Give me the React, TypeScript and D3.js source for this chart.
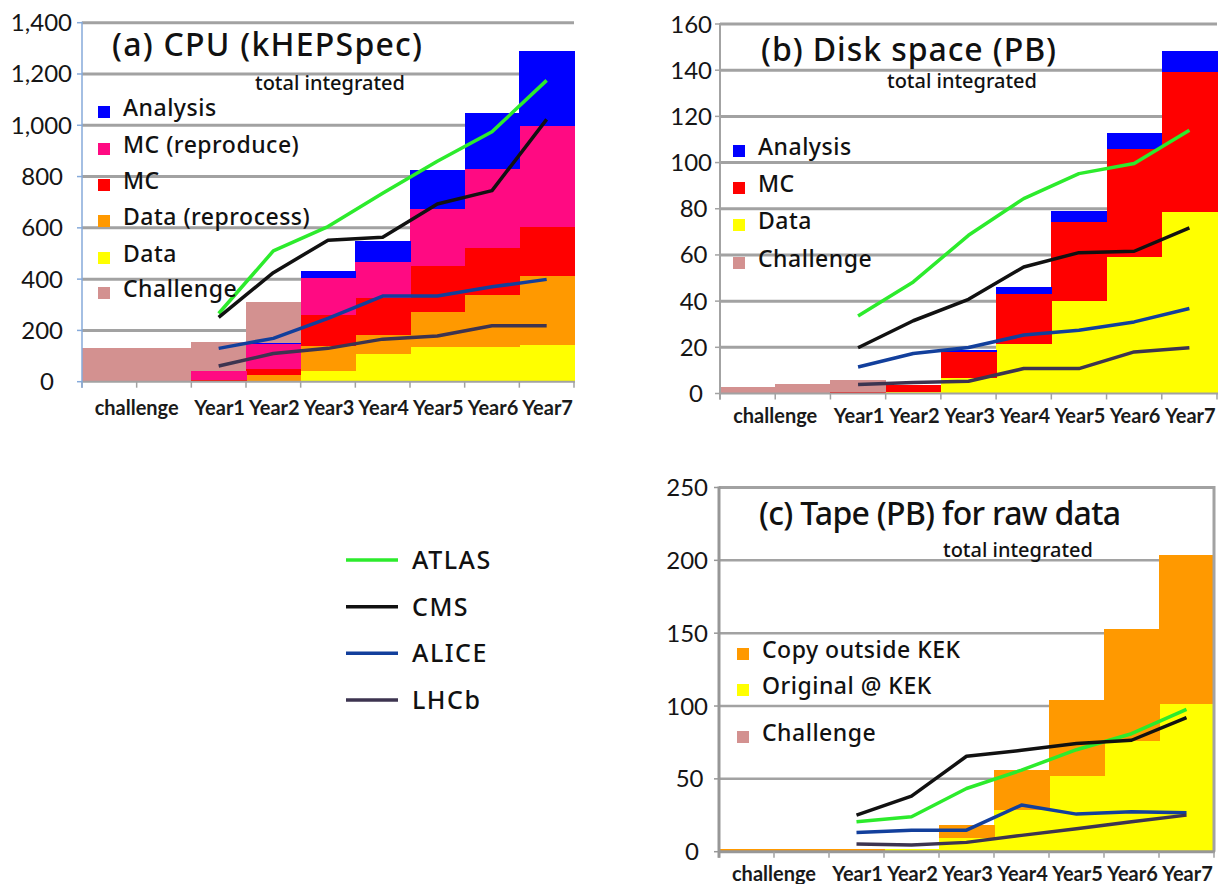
import React, { useEffect, useRef } from "react";
import * as d3 from "d3";

const W = 1232;
const H = 884;

// 9 slots on each x axis: two "challenge" slots, then the seven years
const slotIds = ["c1", "c2", "Year1", "Year2", "Year3", "Year4", "Year5", "Year6", "Year7"];
const yearLabels = ["Year1", "Year2", "Year3", "Year4", "Year5", "Year6", "Year7"];
const challengeLabel = "challenge";

const experiments = ["ATLAS", "CMS", "ALICE", "LHCb"];
const expColors = ["#2CEB2C", "#111111", "#123F9C", "#3D3450"];

// (a) CPU (kHEPSpec) - stacked pieces per slot
const cpuChallenge = [130, 130, 156, 312, 0, 0, 0, 0, 0];
const cpuData = [0, 0, 0, 0, 43, 108, 134, 136, 143];
const cpuDataReprocess = [0, 0, 3, 25, 97, 74, 136, 202, 269];
const cpuMC = [0, 0, 5, 25, 122, 146, 182, 185, 190];
const cpuMCReproduce = [0, 0, 34, 98, 142, 137, 221, 305, 395];
const cpuAnalysis = [0, 0, 0, 4, 26, 83, 152, 218, 293];
const cpuAtlas = [266, 510, 605, 735, 860, 975, 1175];
const cpuCms = [251, 425, 552, 563, 693, 745, 1023];
const cpuAlice = [130, 169, 247, 334, 334, 370, 399];
const cpuLhcb = [61, 110, 130, 166, 178, 218, 218];

// (b) Disk space (PB)
const diskChallenge = [2.9, 4, 5.8, 0, 0, 0, 0, 0, 0];
const diskData = [0, 0, 0, 0.5, 6.8, 21.6, 40, 58.9, 78.4];
const diskMC = [0, 0, 0.7, 3.1, 11.2, 21.4, 34.3, 46.9, 60.8];
const diskAnalysis = [0, 0, 0, 0, 0.8, 2.9, 4.7, 7, 9];
const diskAtlas = [33.6, 48.3, 68.5, 84.4, 95.2, 99.6, 114];
const diskCms = [19.8, 31.5, 40.8, 54.8, 61, 61.6, 71.7];
const diskAlice = [11.5, 17.3, 19.9, 25.3, 27.4, 31, 36.8];
const diskLhcb = [3.9, 4.8, 5.3, 10.8, 10.8, 18, 19.8];

// (c) Tape (PB) for raw data
const tapeChallenge = [0, 0, 0, 0, 0, 0, 0, 0, 0];
const tapeOriginal = [0, 0, 0, 1.8, 9.1, 28.5, 52, 76, 101.6];
const tapeCopy = [1.8, 1.8, 1.8, 0, 9.2, 27.9, 52.3, 77, 102.1];
const tapeAtlas = [20.5, 24, 43.4, 56, 70, 81, 97.7];
const tapeCms = [25.1, 38.1, 65.5, 69.6, 74.2, 76.5, 92];
const tapeAlice = [13.2, 14.8, 14.8, 32, 25.8, 27.4, 26.7];
const tapeLhcb = [5.3, 4.6, 6.4, 11.2, 15.8, 20.5, 25.1];

const C = {
  analysis: "#0000FF",
  mcRepro: "#FF0A82",
  mc: "#FF0000",
  dataRepro: "#FF9900",
  data: "#FFFF00",
  challenge: "#D39190",
};

const comic = "'Noto Sans', sans-serif";

interface Layer { name: string; color: string; values: number[] }

interface PanelCfg {
  x0: number; x1: number; yBase: number; yTop: number; yMax: number; step: number;
  challenge: number[];
  stack: Layer[];
  lines: number[][];
  legend: { name: string; color: string }[];
  legendX: number; legendTops: number[];
  title: string; titleX: number; titleY: number; titleLen: number;
  subX: number; subY: number;
  axisColor: string; axisWidth: number; gridWidth: number; border: boolean;
  labelGap: number; xLabelY: number;
}

const panels: PanelCfg[] = [
  {
    x0: 82, x1: 574, yBase: 381.7, yTop: 22.7, yMax: 1400, step: 200,
    challenge: cpuChallenge,
    stack: [
      { name: "Data", color: C.data, values: cpuData },
      { name: "Data (reprocess)", color: C.dataRepro, values: cpuDataReprocess },
      { name: "MC", color: C.mc, values: cpuMC },
      { name: "MC (reproduce)", color: C.mcRepro, values: cpuMCReproduce },
      { name: "Analysis", color: C.analysis, values: cpuAnalysis },
    ],
    lines: [cpuAtlas, cpuCms, cpuAlice, cpuLhcb],
    legend: [
      { name: "Analysis", color: C.analysis },
      { name: "MC (reproduce)", color: C.mcRepro },
      { name: "MC", color: C.mc },
      { name: "Data (reprocess)", color: C.dataRepro },
      { name: "Data", color: C.data },
      { name: "Challenge", color: C.challenge },
    ],
    legendX: 98, legendTops: [106, 143, 179, 215, 252, 287],
    title: "(a)  CPU (kHEPSpec)", titleX: 112, titleY: 56, titleLen: 310,
    subX: 255, subY: 90,
    axisColor: "#86AADA", axisWidth: 1.5, gridWidth: 3, border: false,
    labelGap: 10, xLabelY: 415,
  },
  {
    x0: 720, x1: 1217, yBase: 393.5, yTop: 24, yMax: 160, step: 20,
    challenge: diskChallenge,
    stack: [
      { name: "Data", color: C.data, values: diskData },
      { name: "MC", color: C.mc, values: diskMC },
      { name: "Analysis", color: C.analysis, values: diskAnalysis },
    ],
    lines: [diskAtlas, diskCms, diskAlice, diskLhcb],
    legend: [
      { name: "Analysis", color: C.analysis },
      { name: "MC", color: C.mc },
      { name: "Data", color: C.data },
      { name: "Challenge", color: C.challenge },
    ],
    legendX: 733, legendTops: [145, 182, 219, 257],
    title: "(b) Disk  space (PB)", titleX: 761, titleY: 61, titleLen: 295,
    subX: 887, subY: 88,
    axisColor: "#A3A3A3", axisWidth: 2, gridWidth: 3, border: false,
    labelGap: 8, xLabelY: 423,
  },
  {
    x0: 719, x1: 1214, yBase: 851.7, yTop: 487.5, yMax: 250, step: 50,
    challenge: tapeChallenge,
    stack: [
      { name: "Original @ KEK", color: C.data, values: tapeOriginal },
      { name: "Copy outside KEK", color: C.dataRepro, values: tapeCopy },
    ],
    lines: [tapeAtlas, tapeCms, tapeAlice, tapeLhcb],
    legend: [
      { name: "Copy outside KEK", color: C.dataRepro },
      { name: "Original @ KEK", color: C.data },
      { name: "Challenge", color: C.challenge },
    ],
    legendX: 737, legendTops: [648, 684, 731],
    title: "(c) Tape (PB) for raw data", titleX: 759, titleY: 525, titleLen: 362,
    subX: 943, subY: 557,
    axisColor: "#979797", axisWidth: 3, gridWidth: 2.5, border: true,
    labelGap: 11, xLabelY: 881,
  },
];

function drawPanel(svg: d3.Selection<SVGSVGElement, unknown, null, undefined>, p: PanelCfg) {
  const g = svg.append("g");
  const x = d3.scaleBand<string>().domain(slotIds).range([p.x0, p.x1]).paddingInner(0).paddingOuter(0);
  const y = d3.scaleLinear().domain([0, p.yMax]).range([p.yBase, p.yTop]);
  const bw = x.bandwidth();
  const ticks = d3.range(0, p.yMax + p.step / 2, p.step);
  const fmt = d3.format(",");

  // gridlines
  g.append("g")
    .selectAll("line")
    .data(ticks.filter((t) => t > 0 && !(p.border && t === p.yMax)))
    .join("line")
    .attr("x1", p.x0)
    .attr("x2", p.x1)
    .attr("y1", (d) => y(d))
    .attr("y2", (d) => y(d))
    .attr("stroke", "#A2A2A2")
    .attr("stroke-width", p.gridWidth);

  // challenge bars (behind stacks)
  g.append("g")
    .selectAll("rect")
    .data(p.challenge.map((v, i) => ({ id: slotIds[i], v })).filter((d) => d.v > 0))
    .join("rect")
    .attr("x", (d) => x(d.id)!)
    .attr("width", bw + 0.5)
    .attr("y", (d) => y(d.v))
    .attr("height", (d) => y(0) - y(d.v))
    .attr("fill", C.challenge)
    .attr("shape-rendering", "crispEdges");

  // stacked bars
  const rows = slotIds.map((id, i) => {
    const r: any = { id };
    p.stack.forEach((l) => (r[l.name] = l.values[i]));
    return r;
  });
  const series = d3.stack<any>().keys(p.stack.map((l) => l.name))(rows);
  series.forEach((s, k) => {
    g.append("g")
      .selectAll("rect")
      .data(s.filter((d) => d[1] - d[0] > 0))
      .join("rect")
      .attr("x", (d) => x(d.data.id)!)
      .attr("width", bw + 0.5)
      .attr("y", (d) => y(d[1]))
      .attr("height", (d) => y(d[0]) - y(d[1]))
      .attr("fill", p.stack[k].color)
      .attr("shape-rendering", "crispEdges");
  });

  // border (panel c)
  if (p.border) {
    g.append("path")
      .attr("d", `M${p.x0},${y(p.yMax)} H${p.x1} V${y(0)}`)
      .attr("fill", "none")
      .attr("stroke", "#A2A2A2")
      .attr("stroke-width", 3);
  }

  // x axis
  g.append("line")
    .attr("x1", p.x0).attr("x2", p.x1 + 1)
    .attr("y1", y(0)).attr("y2", y(0))
    .attr("stroke", p.border ? p.axisColor : "#A2A2A2")
    .attr("stroke-width", p.border ? 3 : 2);
  const bounds = slotIds.map((id) => x(id)!).concat([p.x1]);
  g.append("g")
    .selectAll("line")
    .data(bounds)
    .join("line")
    .attr("x1", (d) => d).attr("x2", (d) => d)
    .attr("y1", y(0)).attr("y2", y(0) + 6)
    .attr("stroke", "#A2A2A2")
    .attr("stroke-width", 1.5);

  // y axis
  g.append("line")
    .attr("x1", p.x0).attr("x2", p.x0)
    .attr("y1", y(p.yMax) - 1).attr("y2", y(0) + 6)
    .attr("stroke", p.axisColor)
    .attr("stroke-width", p.axisWidth);
  g.append("g")
    .selectAll("line")
    .data(ticks)
    .join("line")
    .attr("x1", p.x0 - 5).attr("x2", p.x0)
    .attr("y1", (d) => y(d)).attr("y2", (d) => y(d))
    .attr("stroke", p.axisColor)
    .attr("stroke-width", 1.5);
  const maxLen = fmt(p.yMax).length;
  g.append("g")
    .selectAll("text")
    .data(ticks)
    .join("text")
    .attr("x", (d) => p.x0 - p.labelGap - (maxLen - fmt(d).length) * 4.5)
    .attr("y", (d) => y(d) + 8.5)
    .attr("text-anchor", "end")
    .attr("font-family", "Lato, sans-serif")
    .attr("font-size", 24)
    .attr("fill", "#151515")
    .text((d) => fmt(d));

  // x labels
  const xl = g.append("g")
    .attr("font-family", "Lato, sans-serif")
    .attr("font-weight", 700)
    .attr("font-size", 20)
    .attr("fill", "#1a1a1a")
    .attr("text-anchor", "middle");
  xl.append("text").attr("x", x("c2")!).attr("y", p.xLabelY).text(challengeLabel);
  xl.selectAll("text.yr")
    .data(yearLabels)
    .join("text")
    .attr("class", "yr")
    .attr("x", (d) => x(d)! + bw / 2 + 1)
    .attr("y", p.xLabelY)
    .text((d) => d);

  // experiment lines
  const line = d3.line<number>()
    .x((_, i) => x(yearLabels[i])! + bw / 2)
    .y((d) => y(d));
  p.lines.forEach((vals, k) => {
    g.append("path")
      .attr("d", line(vals)!)
      .attr("fill", "none")
      .attr("stroke", expColors[k])
      .attr("stroke-width", 3.5)
      .attr("stroke-linejoin", "round");
  });

  // legend
  const lg = g.append("g");
  p.legend.forEach((it, i) => {
    const top = p.legendTops[i];
    lg.append("rect")
      .attr("x", p.legendX).attr("y", top)
      .attr("width", 12).attr("height", 12)
      .attr("fill", it.color);
    lg.append("text")
      .attr("x", p.legendX + 25)
      .attr("y", top + 10)
      .attr("font-family", comic)
      .attr("font-size", 23)
      .attr("font-weight", 500)
      .attr("letter-spacing", 0.5)
      .attr("fill", "#111")
      .text(it.name);
  });

  // title
  g.append("text")
    .attr("x", p.titleX).attr("y", p.titleY)
    .attr("font-family", comic)
    .attr("font-size", 32)
    .attr("font-weight", 500)
    .attr("textLength", p.titleLen)
    .attr("lengthAdjust", "spacing")
    .attr("fill", "#111")
    .text(p.title);
  g.append("text")
    .attr("x", p.subX).attr("y", p.subY)
    .attr("font-family", comic)
    .attr("font-size", 19)
    .attr("font-weight", 500)
    .attr("textLength", 150)
    .attr("lengthAdjust", "spacingAndGlyphs")
    .attr("fill", "#111")
    .text("total integrated");
}

function drawCenterLegend(svg: d3.Selection<SVGSVGElement, unknown, null, undefined>) {
  const g = svg.append("g");
  const ly = d3.scalePoint<string>().domain(experiments).range([560, 700]);
  experiments.forEach((e, k) => {
    g.append("line")
      .attr("x1", 346).attr("x2", 398)
      .attr("y1", ly(e)!).attr("y2", ly(e)!)
      .attr("stroke", expColors[k])
      .attr("stroke-width", 3.5);
    g.append("text")
      .attr("x", 412).attr("y", ly(e)! + 9)
      .attr("font-family", comic)
      .attr("font-size", 25)
      .attr("font-weight", 500)
      .attr("letter-spacing", 1.5)
      .attr("fill", "#111")
      .text(e);
  });
}

export default function App() {
  const ref = useRef<SVGSVGElement>(null);

  useEffect(() => {
    const svg = d3.select(ref.current!);
    svg.selectAll("*").remove();
    svg.append("rect").attr("width", W).attr("height", H).attr("fill", "#fff");
    panels.forEach((p) => drawPanel(svg, p));
    drawCenterLegend(svg);
  }, []);

  return (
    <svg
      ref={ref}
      width={W}
      height={H}
      style={{ position: "absolute", left: 0, top: 0 }}
    />
  );
}
